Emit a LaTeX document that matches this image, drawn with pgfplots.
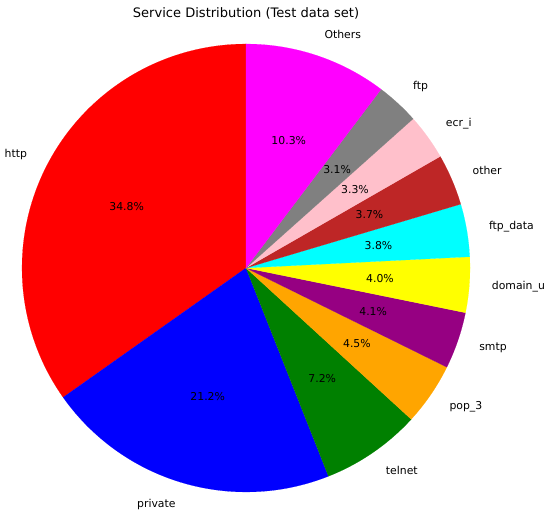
\documentclass[border=0pt]{standalone}
\usepackage{pgfplots}
\pgfplotsset{compat=1.18}
\usepackage{fontspec}
\setmainfont{DejaVu Sans}
\definecolor{cred}{RGB}{255,0,0}
\definecolor{cblue}{RGB}{0,0,255}
\definecolor{cgreen}{RGB}{0,128,0}
\definecolor{corange}{RGB}{255,165,0}
\definecolor{cpurple}{RGB}{150,0,130}
\definecolor{cyellow}{RGB}{255,255,0}
\definecolor{ccyan}{RGB}{0,255,255}
\definecolor{cbrown}{RGB}{190,38,38}
\definecolor{cpink}{RGB}{255,192,203}
\definecolor{cgray}{RGB}{128,128,128}
\definecolor{cmagenta}{RGB}{255,0,255}
% \slice{start percent}{percent}{colour}{label}{anchor of label}
\newcommand{\slice}[5]{%
  \addplot[fill=#3, draw=#3, line width=0.1pt, domain={90+3.6*#1}:{90+3.6*(#1+#2)}, samples=80]
    ({246+224*cos(x)}, {247+224*sin(x)}) -- (axis cs:246,247) -- cycle;
  \node[font=\fontsize{10.9}{12}\selectfont] at (axis cs:{246+134.4*cos(90+3.6*(#1+#2/2))},{247+134.4*sin(90+3.6*(#1+#2/2))}) {#2\%};
  \node[font=\fontsize{10.9}{12}\selectfont, anchor=#5, inner sep=0pt] at (axis cs:{246+246.4*cos(90+3.6*(#1+#2/2))},{247+246.4*sin(90+3.6*(#1+#2/2))}) {#4};
}
\begin{document}
\begin{tikzpicture}
\begin{axis}[
  x=1bp, y=1bp, xmin=0, xmax=550, ymin=0, ymax=515,
  hide axis, clip=false, scale only axis,
]
\path (axis cs:0,0) rectangle (axis cs:550,515);
\slice{0}{34.8}{cred}{http}{east}
\slice{34.8}{21.2}{cblue}{private}{east}
\slice{56.0}{7.2}{cgreen}{telnet}{west}
\slice{63.2}{4.5}{corange}{pop\_3}{west}
\slice{67.7}{4.1}{cpurple}{smtp}{west}
\slice{71.8}{4.0}{cyellow}{domain\_u}{west}
\slice{75.8}{3.8}{ccyan}{ftp\_data}{west}
\slice{79.6}{3.7}{cbrown}{other}{west}
\slice{83.3}{3.3}{cpink}{ecr\_i}{west}
\slice{86.6}{3.1}{cgray}{ftp}{west}
\slice{89.7}{10.3}{cmagenta}{Others}{west}
\node[font=\fontsize{13.1}{15}\selectfont] at (axis cs:246,502) {Service Distribution (Test data set)};
\end{axis}
\end{tikzpicture}
\end{document}
